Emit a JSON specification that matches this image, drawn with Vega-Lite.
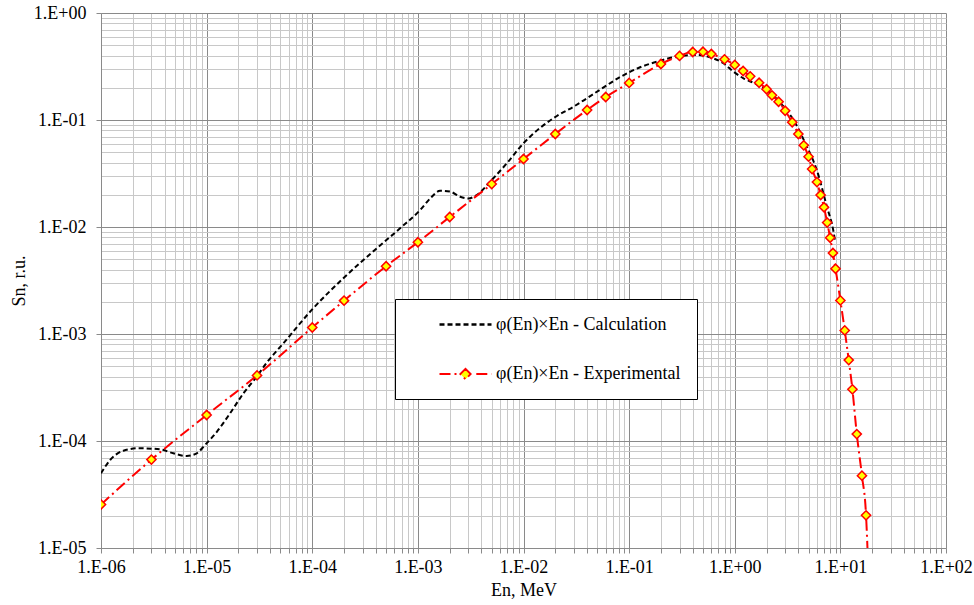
{
  "$schema": "https://vega.github.io/schema/vega-lite/v6.json",
  "width": 845,
  "height": 535,
  "autosize": "none",
  "padding": {"left": 101, "top": 13, "right": 28, "bottom": 57},
  "background": "white",
  "config": {
    "view": {"stroke": null},
    "font": "Times New Roman, Liberation Serif, DejaVu Serif, serif"
  },
  "data": {
    "values": [
      {"series": "φ(En)×En - Calculation", "en": 1e-6, "sn": 4.99e-5},
      {"series": "φ(En)×En - Calculation", "en": 1.22e-6, "sn": 6.64e-5},
      {"series": "φ(En)×En - Calculation", "en": 1.63e-6, "sn": 8.12e-5},
      {"series": "φ(En)×En - Calculation", "en": 2.26e-6, "sn": 8.55e-5},
      {"series": "φ(En)×En - Calculation", "en": 3.62e-6, "sn": 8.36e-5},
      {"series": "φ(En)×En - Calculation", "en": 4.84e-6, "sn": 7.67e-5},
      {"series": "φ(En)×En - Calculation", "en": 6.48e-6, "sn": 7.24e-5},
      {"series": "φ(En)×En - Calculation", "en": 8.06e-6, "sn": 7.67e-5},
      {"series": "φ(En)×En - Calculation", "en": 9.66e-6, "sn": 9.18e-5},
      {"series": "φ(En)×En - Calculation", "en": 1.25e-5, "sn": 1.22e-4},
      {"series": "φ(En)×En - Calculation", "en": 1.67e-5, "sn": 1.82e-4},
      {"series": "φ(En)×En - Calculation", "en": 2.23e-5, "sn": 2.79e-4},
      {"series": "φ(En)×En - Calculation", "en": 2.98e-5, "sn": 3.99e-4},
      {"series": "φ(En)×En - Calculation", "en": 3.71e-5, "sn": 5.4e-4},
      {"series": "φ(En)×En - Calculation", "en": 5.33e-5, "sn": 8.18e-4},
      {"series": "φ(En)×En - Calculation", "en": 9.89e-5, "sn": 1.68e-3},
      {"series": "φ(En)×En - Calculation", "en": 1.97e-4, "sn": 3.32e-3},
      {"series": "φ(En)×En - Calculation", "en": 4.08e-4, "sn": 6.32e-3},
      {"series": "φ(En)×En - Calculation", "en": 6.78e-4, "sn": 9.72e-3},
      {"series": "φ(En)×En - Calculation", "en": 1.05e-3, "sn": 0.0144},
      {"series": "φ(En)×En - Calculation", "en": 1.31e-3, "sn": 0.0185},
      {"series": "φ(En)×En - Calculation", "en": 1.62e-3, "sn": 0.0218},
      {"series": "φ(En)×En - Calculation", "en": 2.02e-3, "sn": 0.0214},
      {"series": "φ(En)×En - Calculation", "en": 2.51e-3, "sn": 0.0192},
      {"series": "φ(En)×En - Calculation", "en": 3.0e-3, "sn": 0.0185},
      {"series": "φ(En)×En - Calculation", "en": 3.61e-3, "sn": 0.0199},
      {"series": "φ(En)×En - Calculation", "en": 4.83e-3, "sn": 0.0265},
      {"series": "φ(En)×En - Calculation", "en": 6.95e-3, "sn": 0.0394},
      {"series": "φ(En)×En - Calculation", "en": 9.98e-3, "sn": 0.0605},
      {"series": "φ(En)×En - Calculation", "en": 1.44e-2, "sn": 0.0845},
      {"series": "φ(En)×En - Calculation", "en": 2.07e-2, "sn": 0.109},
      {"series": "φ(En)×En - Calculation", "en": 2.97e-2, "sn": 0.133},
      {"series": "φ(En)×En - Calculation", "en": 3.69e-2, "sn": 0.152},
      {"series": "φ(En)×En - Calculation", "en": 5.31e-2, "sn": 0.192},
      {"series": "φ(En)×En - Calculation", "en": 8.22e-2, "sn": 0.252},
      {"series": "φ(En)×En - Calculation", "en": 0.127, "sn": 0.311},
      {"series": "φ(En)×En - Calculation", "en": 0.197, "sn": 0.358},
      {"series": "φ(En)×En - Calculation", "en": 0.304, "sn": 0.397},
      {"series": "φ(En)×En - Calculation", "en": 0.438, "sn": 0.405},
      {"series": "φ(En)×En - Calculation", "en": 0.585, "sn": 0.385},
      {"series": "φ(En)×En - Calculation", "en": 0.782, "sn": 0.339},
      {"series": "φ(En)×En - Calculation", "en": 0.972, "sn": 0.283},
      {"series": "φ(En)×En - Calculation", "en": 1.21, "sn": 0.245},
      {"series": "φ(En)×En - Calculation", "en": 1.5, "sn": 0.223},
      {"series": "φ(En)×En - Calculation", "en": 2.01, "sn": 0.191},
      {"series": "φ(En)×En - Calculation", "en": 2.69, "sn": 0.145},
      {"series": "φ(En)×En - Calculation", "en": 3.6, "sn": 0.1},
      {"series": "φ(En)×En - Calculation", "en": 4.82, "sn": 0.0563},
      {"series": "φ(En)×En - Calculation", "en": 5.98, "sn": 0.0341},
      {"series": "φ(En)×En - Calculation", "en": 7.45, "sn": 0.0155},
      {"series": "φ(En)×En - Calculation", "en": 8.61, "sn": 0.00904},
      {"series": "φ(En)×En - Calculation", "en": 8.9, "sn": 0.0074},
      {"series": "φ(En)×En - Experimental", "en": 1e-6, "sn": 2.55e-5},
      {"series": "φ(En)×En - Experimental", "en": 3e-6, "sn": 6.7e-5},
      {"series": "φ(En)×En - Experimental", "en": 1e-5, "sn": 1.75e-4},
      {"series": "φ(En)×En - Experimental", "en": 3e-5, "sn": 4.1e-4},
      {"series": "φ(En)×En - Experimental", "en": 1e-4, "sn": 1.15e-3},
      {"series": "φ(En)×En - Experimental", "en": 2e-4, "sn": 2.05e-3},
      {"series": "φ(En)×En - Experimental", "en": 5e-4, "sn": 4.3e-3},
      {"series": "φ(En)×En - Experimental", "en": 1e-3, "sn": 7.2e-3},
      {"series": "φ(En)×En - Experimental", "en": 2e-3, "sn": 1.24e-2},
      {"series": "φ(En)×En - Experimental", "en": 5e-3, "sn": 2.52e-2},
      {"series": "φ(En)×En - Experimental", "en": 1e-2, "sn": 4.32e-2},
      {"series": "φ(En)×En - Experimental", "en": 2e-2, "sn": 7.4e-2},
      {"series": "φ(En)×En - Experimental", "en": 4e-2, "sn": 0.124},
      {"series": "φ(En)×En - Experimental", "en": 6e-2, "sn": 0.164},
      {"series": "φ(En)×En - Experimental", "en": 0.1, "sn": 0.222},
      {"series": "φ(En)×En - Experimental", "en": 0.2, "sn": 0.334},
      {"series": "φ(En)×En - Experimental", "en": 0.3, "sn": 0.397},
      {"series": "φ(En)×En - Experimental", "en": 0.4, "sn": 0.432},
      {"series": "φ(En)×En - Experimental", "en": 0.5, "sn": 0.434},
      {"series": "φ(En)×En - Experimental", "en": 0.6, "sn": 0.414},
      {"series": "φ(En)×En - Experimental", "en": 0.8, "sn": 0.369},
      {"series": "φ(En)×En - Experimental", "en": 1.0, "sn": 0.327},
      {"series": "φ(En)×En - Experimental", "en": 1.2, "sn": 0.287},
      {"series": "φ(En)×En - Experimental", "en": 1.4, "sn": 0.256},
      {"series": "φ(En)×En - Experimental", "en": 1.7, "sn": 0.223},
      {"series": "φ(En)×En - Experimental", "en": 2.0, "sn": 0.194},
      {"series": "φ(En)×En - Experimental", "en": 2.25, "sn": 0.17},
      {"series": "φ(En)×En - Experimental", "en": 2.6, "sn": 0.148},
      {"series": "φ(En)×En - Experimental", "en": 3.0, "sn": 0.122},
      {"series": "φ(En)×En - Experimental", "en": 3.5, "sn": 0.0952},
      {"series": "φ(En)×En - Experimental", "en": 4.0, "sn": 0.074},
      {"series": "φ(En)×En - Experimental", "en": 4.5, "sn": 0.058},
      {"series": "φ(En)×En - Experimental", "en": 5.0, "sn": 0.0454},
      {"series": "φ(En)×En - Experimental", "en": 5.4, "sn": 0.0348},
      {"series": "φ(En)×En - Experimental", "en": 6.0, "sn": 0.0263},
      {"series": "φ(En)×En - Experimental", "en": 6.5, "sn": 0.0199},
      {"series": "φ(En)×En - Experimental", "en": 7.0, "sn": 0.0153},
      {"series": "φ(En)×En - Experimental", "en": 7.5, "sn": 0.011},
      {"series": "φ(En)×En - Experimental", "en": 8.0, "sn": 0.00794},
      {"series": "φ(En)×En - Experimental", "en": 8.5, "sn": 0.00571},
      {"series": "φ(En)×En - Experimental", "en": 9.0, "sn": 0.00407},
      {"series": "φ(En)×En - Experimental", "en": 10, "sn": 0.00206},
      {"series": "φ(En)×En - Experimental", "en": 11, "sn": 0.00108},
      {"series": "φ(En)×En - Experimental", "en": 12, "sn": 5.7e-4},
      {"series": "φ(En)×En - Experimental", "en": 13, "sn": 3.04e-4},
      {"series": "φ(En)×En - Experimental", "en": 14.3, "sn": 1.16e-4},
      {"series": "φ(En)×En - Experimental", "en": 16, "sn": 4.74e-5},
      {"series": "φ(En)×En - Experimental", "en": 17.5, "sn": 2.02e-5},
      {"series": "φ(En)×En - Experimental", "en": 18.4, "sn": 6e-6}
    ]
  },
  "encoding": {
    "x": {
      "field": "en",
      "type": "quantitative",
      "scale": {"type": "log", "domain": [1e-6, 100], "nice": false},
      "axis": {
        "title": "En, MeV",
        "titleFont": "Times New Roman, Liberation Serif, DejaVu Serif, serif",
        "titleFontSize": 18,
        "titleFontWeight": "normal",
        "titleColor": "black",
        "titlePadding": 5,
        "values": [1e-6, 2e-6, 3e-6, 4e-6, 5e-6, 6e-6, 7e-6, 8e-6, 9e-6,
                   1e-5, 2e-5, 3e-5, 4e-5, 5e-5, 6e-5, 7e-5, 8e-5, 9e-5,
                   1e-4, 2e-4, 3e-4, 4e-4, 5e-4, 6e-4, 7e-4, 8e-4, 9e-4,
                   1e-3, 2e-3, 3e-3, 4e-3, 5e-3, 6e-3, 7e-3, 8e-3, 9e-3,
                   0.01, 0.02, 0.03, 0.04, 0.05, 0.06, 0.07, 0.08, 0.09,
                   0.1, 0.2, 0.3, 0.4, 0.5, 0.6, 0.7, 0.8, 0.9,
                   1, 2, 3, 4, 5, 6, 7, 8, 9,
                   10, 20, 30, 40, 50, 60, 70, 80, 90, 100],
        "labelExpr": "abs(log(datum.value)/LN10 - round(log(datum.value)/LN10)) < 0.001 ? '1.E' + (round(log(datum.value)/LN10) < 0 ? '-' : '+') + '0' + abs(round(log(datum.value)/LN10)) : ''",
        "labelFont": "Times New Roman, Liberation Serif, DejaVu Serif, serif",
        "labelFontSize": 18,
        "labelColor": "black",
        "labelPadding": 5,
        "labelFlush": false,
        "labelOverlap": false,
        "labelBound": false,
        "grid": true,
        "gridColor": {"condition": {"test": "abs(log(datum.value)/LN10 - round(log(datum.value)/LN10)) < 0.001", "value": "#8a8a8a"}, "value": "#c8c8c8"},
        "gridWidth": 1,
        "domainColor": "#8a8a8a",
        "domainWidth": 1,
        "tickColor": "#8a8a8a",
        "tickSize": 5
      }
    },
    "y": {
      "field": "sn",
      "type": "quantitative",
      "scale": {"type": "log", "domain": [1e-5, 1], "nice": false},
      "axis": {
        "title": "Sn, r.u.",
        "titleFont": "Times New Roman, Liberation Serif, DejaVu Serif, serif",
        "titleFontSize": 18,
        "titleFontWeight": "normal",
        "titleColor": "black",
        "titlePadding": 5,
        "values": [1e-5, 2e-5, 3e-5, 4e-5, 5e-5, 6e-5, 7e-5, 8e-5, 9e-5,
                   1e-4, 2e-4, 3e-4, 4e-4, 5e-4, 6e-4, 7e-4, 8e-4, 9e-4,
                   1e-3, 2e-3, 3e-3, 4e-3, 5e-3, 6e-3, 7e-3, 8e-3, 9e-3,
                   0.01, 0.02, 0.03, 0.04, 0.05, 0.06, 0.07, 0.08, 0.09,
                   0.1, 0.2, 0.3, 0.4, 0.5, 0.6, 0.7, 0.8, 0.9, 1],
        "labelExpr": "abs(log(datum.value)/LN10 - round(log(datum.value)/LN10)) < 0.001 ? '1.E' + (round(log(datum.value)/LN10) < 0 ? '-' : '+') + '0' + abs(round(log(datum.value)/LN10)) : ''",
        "labelFont": "Times New Roman, Liberation Serif, DejaVu Serif, serif",
        "labelFontSize": 18,
        "labelColor": "black",
        "labelPadding": 10,
        "labelFlush": false,
        "labelOverlap": false,
        "labelBound": false,
        "grid": true,
        "gridColor": {"condition": {"test": "abs(log(datum.value)/LN10 - round(log(datum.value)/LN10)) < 0.001", "value": "#8a8a8a"}, "value": "#c8c8c8"},
        "gridWidth": 1,
        "domainColor": "#8a8a8a",
        "domainWidth": 1,
        "tickColor": "#8a8a8a",
        "tickOpacity": {"condition": {"test": "abs(log(datum.value)/LN10 - round(log(datum.value)/LN10)) < 0.001", "value": 1}, "value": 0},
        "tickSize": 5
      }
    }
  },
  "layer": [
    {
      "mark": {"type": "line", "clip": true, "interpolate": "monotone", "strokeWidth": 2},
      "encoding": {
        "color": {
          "field": "series",
          "type": "nominal",
          "scale": {"domain": ["φ(En)×En - Calculation", "φ(En)×En - Experimental"], "range": ["black", "red"]},
          "legend": {
            "title": null,
            "orient": "none",
            "legendX": 294,
            "legendY": 286,
            "padding": 16,
            "rowPadding": 31,
            "strokeColor": "black",
            "fillColor": "white",
            "labelFont": "Times New Roman, Liberation Serif, DejaVu Serif, serif",
            "labelFontSize": 18,
            "labelColor": "black",
            "labelLimit": 0,
            "labelOffset": 3,
            "symbolSize": 256,
            "symbolOffset": 63,
            "symbolStrokeWidth": 2,
            "encoding": {
              "symbols": {
                "shape": {"condition": {"test": "indexof(datum.value, 'Exp') >= 0", "value": "M-5.5,0H-3.1M-0.9,0H1M-2.25,-0.65L-1.6,0L-2.25,0.65L-2.9,0Z"}, "value": "M-5.5,0H1"},
                "fill": {"condition": {"test": "indexof(datum.value, 'Exp') >= 0", "value": "yellow"}, "value": "transparent"},
                "stroke": {"condition": {"test": "indexof(datum.value, 'Exp') >= 0", "value": "red"}, "value": "black"},
                "strokeDash": {"condition": {"test": "indexof(datum.value, 'Exp') >= 0", "value": [100, 0]}, "value": [5.5, 3]},
                "strokeWidth": {"value": 2},
                "opacity": {"value": 1}
              }
            }
          }
        },
        "strokeDash": {
          "field": "series",
          "type": "nominal",
          "scale": {"domain": ["φ(En)×En - Calculation", "φ(En)×En - Experimental"], "range": [[5, 3], [11, 4, 2, 4]]},
          "legend": null
        },
        "strokeWidth": {
          "field": "series",
          "type": "nominal",
          "scale": {"domain": ["φ(En)×En - Calculation", "φ(En)×En - Experimental"], "range": [2.3, 1.8]},
          "legend": null
        }
      }
    },
    {
      "transform": [{"filter": "indexof(datum.series, 'Exp') >= 0"}],
      "mark": {"type": "point", "shape": "diamond", "filled": true, "fill": "yellow", "stroke": "red", "strokeWidth": 1.5, "size": 85, "opacity": 1, "clip": true}
    }
  ]
}
